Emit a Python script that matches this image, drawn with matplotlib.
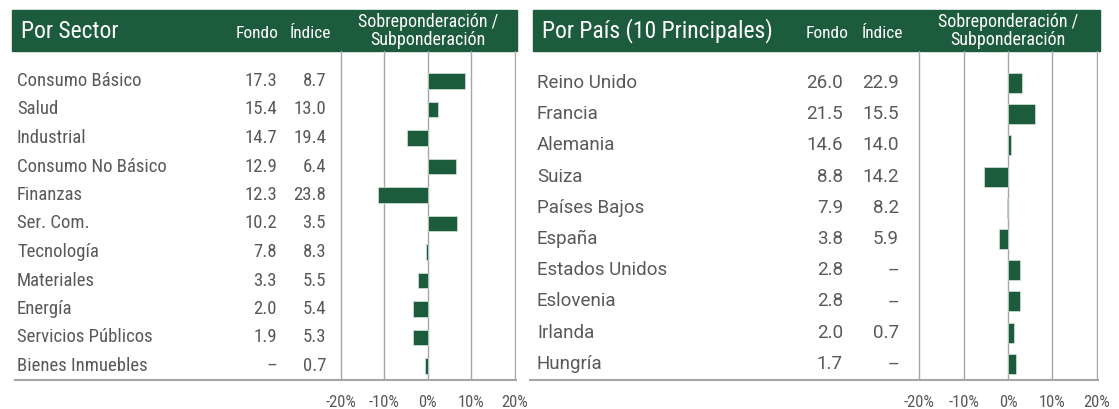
import matplotlib
matplotlib.use("Agg")
import matplotlib.pyplot as plt
import matplotlib.font_manager as fm
import matplotlib.transforms as mtransforms
from matplotlib.patches import Rectangle
from matplotlib.lines import Line2D

# ---- data ----
sectors = ["Consumo Básico", "Salud", "Industrial", "Consumo No Básico", "Finanzas",
           "Ser. Com.", "Tecnología", "Materiales", "Energía", "Servicios Públicos",
           "Bienes Inmuebles"]
sector_fondo = [17.3, 15.4, 14.7, 12.9, 12.3, 10.2, 7.8, 3.3, 2.0, 1.9, None]
sector_indice = [8.7, 13.0, 19.4, 6.4, 23.8, 3.5, 8.3, 5.5, 5.4, 5.3, 0.7]

countries = ["Reino Unido", "Francia", "Alemania", "Suiza", "Países Bajos", "España",
             "Estados Unidos", "Eslovenia", "Irlanda", "Hungría"]
country_fondo = [26.0, 21.5, 14.6, 8.8, 7.9, 3.8, 2.8, 2.8, 2.0, 1.7]
country_indice = [22.9, 15.5, 14.0, 14.2, 8.2, 5.9, None, None, 0.7, None]

ticks = [-20, -10, 0, 10, 20]
tick_labels = ["-20%", "-10%", "0%", "10%", "20%"]

GREEN = "#1c5b3b"
TEXT = "#595959"
GRID = "#a6a6a6"

names = {f.name for f in fm.fontManager.ttflist}
def pick(*cands):
    for c in cands:
        if c in names:
            return c
    return "DejaVu Sans"
NARROW = pick("Roboto Condensed", "Liberation Sans Narrow", "Arial Narrow", "Roboto")
REG = pick("Roboto", "DejaVu Sans")

W, H = 1119, 409
fig = plt.figure(figsize=(W / 100, H / 100), dpi=100)
fx = lambda px: px / W
fy = lambda py: 1 - py / H


def panel(title, labels, fondo, indice, hdr, chart, row0, step, label_x,
          fondo_x, indice_x, fondo_hx, indice_hx, body_font, body_size, miss_f, miss_i):
    # header band
    x0, x1 = hdr
    fig.add_artist(Rectangle((fx(x0), fy(51)), fx(x1) - fx(x0), fy(10) - fy(51),
                             transform=fig.transFigure, color=GREEN, zorder=0))
    fig.text(fx(x0 + 9), fy(31), title, color="white", fontsize=17, family=NARROW,
             va="center", ha="left")
    fig.text(fx(fondo_hx), fy(33), "Fondo", color="white", fontsize=12.5,
             family=NARROW, va="center", ha="center")
    fig.text(fx(indice_hx), fy(33), "Índice", color="white", fontsize=12.5,
             family=NARROW, va="center", ha="center")
    cx0, cx1 = chart
    cmid = (cx0 + cx1) / 2
    fig.text(fx(cmid), fy(22), "Sobreponderación /", color="white", fontsize=13,
             family=NARROW, va="center", ha="center")
    fig.text(fx(cmid), fy(40), "Subponderación", color="white", fontsize=13,
             family=NARROW, va="center", ha="center")

    # bar axes
    ax = fig.add_axes([fx(cx0), fy(380), fx(cx1) - fx(cx0), fy(51) - fy(380)])
    n = len(labels)
    diff = [(f or 0) - (i or 0) for f, i in zip(fondo, indice)]
    ax.barh(range(n), diff, height=0.56 if step < 30 else 0.64, color=GREEN,
            edgecolor="#d5e3d9", linewidth=0.5, zorder=3)
    for t in ticks:
        ax.axvline(t, color=GRID, lw=1, zorder=1)
    ax.set_xlim(-20.3, 20.3)
    ax.set_ylim((380 - row0) / step, (51 - row0) / step)
    for s in ax.spines.values():
        s.set_visible(False)
    ax.set_yticks([])
    ax.set_xticks(ticks)
    ax.set_xticklabels(tick_labels, family=NARROW, fontsize=12, color=TEXT)
    ax.tick_params(axis="x", length=0, pad=11)
    ax.patch.set_alpha(0)

    tr = mtransforms.blended_transform_factory(fig.transFigure, ax.transData)
    for k, lab in enumerate(labels):
        ax.text(fx(label_x), k, lab, transform=tr, ha="left", va="center",
                family=body_font, fontsize=body_size, color=TEXT, clip_on=False)
        f = fondo[k]
        i = indice[k]
        ax.text(fx(fondo_x), k, miss_f if f is None else f"{f:.1f}", transform=tr,
                ha="right", va="center", family=body_font, fontsize=body_size,
                color=TEXT, clip_on=False)
        ax.text(fx(indice_x), k, miss_i if i is None else f"{i:.1f}", transform=tr,
                ha="right", va="center", family=body_font, fontsize=body_size,
                color=TEXT, clip_on=False)
    return ax


panel("Por Sector", sectors, sector_fondo, sector_indice, hdr=(12, 517),
      chart=(339.5, 516), row0=81, step=28.5, label_x=17, fondo_x=277, indice_x=326,
      fondo_hx=257.5, indice_hx=310, body_font=NARROW, body_size=13.5,
      miss_f="–", miss_i="–")
fig.add_artist(Line2D([fx(15), fx(516)], [fy(380), fy(380)], color=GRID, lw=1.5,
                      transform=fig.transFigure))

panel("Por País (10 Principales)", countries, country_fondo, country_indice,
      hdr=(533, 1100), chart=(918, 1098), row0=83, step=31.2, label_x=537,
      fondo_x=843, indice_x=899, fondo_hx=827.5, indice_hx=882.5, body_font=REG,
      body_size=13.5, miss_f="--", miss_i="--")
fig.add_artist(Line2D([fx(530), fx(1098)], [fy(380), fy(380)], color=GRID, lw=1.5,
                      transform=fig.transFigure))

fig.savefig("out.png", dpi=100)
